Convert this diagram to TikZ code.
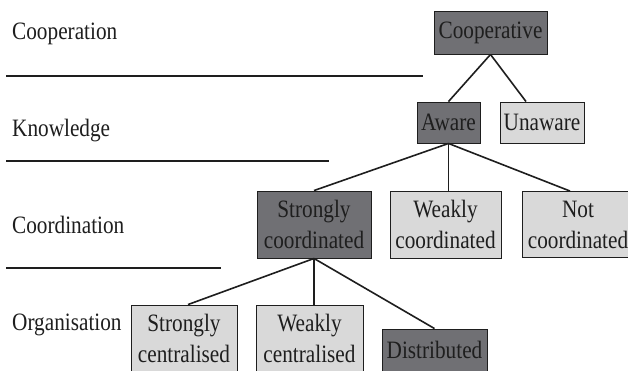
\documentclass[tikz,border=0pt]{standalone}
\usepackage{fontspec}
\setmainfont{Liberation Serif}[FakeStretch=0.85]
\usetikzlibrary{calc}
\definecolor{darkfill}{RGB}{112,112,116}
\definecolor{lightfill}{RGB}{217,217,217}
\definecolor{ink}{RGB}{30,30,30}
\tikzset{
  box/.style={draw=ink, line width=0.9pt, inner sep=0pt, align=center, text=ink,
    font=\fontsize{25}{31}\selectfont},
  darkbox/.style={box, fill=darkfill},
  lightbox/.style={box, fill=lightfill},
  level/.style={anchor=base west, text=ink, font=\fontsize{25}{31}\selectfont, inner sep=0pt},
  sep/.style={draw=ink, line width=1.5pt},
  edge/.style={draw=ink, line width=1.6pt},
}
\begin{document}
\begin{tikzpicture}[x=1pt,y=-1pt]
\useasboundingbox (0,0) rectangle (628,370);
\clip (0,0) rectangle (628,370);
\fill[white] (0,0) rectangle (628,370);

% level labels
\node[level] (lcoop) at (12,39) {Cooperation};
\node[level] (lknow) at (12,136) {Knowledge};
\node[level] (lcoord) at (12,233) {Coordination};
\node[level] (lorg) at (12,330) {Organisation};

% separators
\coordinate (s1a) at (6,76);  \coordinate (s1b) at (423,76);
\coordinate (s2a) at (6,161); \coordinate (s2b) at (329,161);
\coordinate (s3a) at (6,268); \coordinate (s3b) at (221,268);
\draw[sep] (s1a) -- (s1b);
\draw[sep] (s2a) -- (s2b);
\draw[sep] (s3a) -- (s3b);

% boxes
\node[darkbox, minimum width=113pt, minimum height=43pt] (coop) at (490.5,32.5) {Cooperative};
\node[darkbox, minimum width=63pt, minimum height=41pt] (aware) at (448.5,122.5) {Aware};
\node[lightbox, minimum width=84pt, minimum height=41pt] (unaware) at (542,122.5) {Unaware};
\node[darkbox, minimum width=114pt, minimum height=67pt] (scoord) at (314,224.5) {Strongly\\coordinated};
\node[lightbox, minimum width=111pt, minimum height=67pt] (wcoord) at (445.5,224.5) {Weakly\\coordinated};
\node[lightbox, minimum width=112pt, minimum height=66pt] (ncoord) at (578,224.5) {Not\\coordinated};
\node[lightbox, minimum width=106pt, minimum height=67pt] (scent) at (184,338.5) {Strongly\\centralised};
\node[lightbox, minimum width=107pt, minimum height=67pt] (wcent) at (309.5,338.5) {Weakly\\centralised};
\node[darkbox, minimum width=105pt, minimum height=42pt] (dist) at (434.5,350) {Distributed};

% connectors
\draw[edge] (coop.south) -- (aware.north);
\draw[edge] (coop.south) -- ([xshift=-16pt]unaware.north);
\draw[edge] (aware.south) -- (scoord.north);
\draw[edge] (aware.south) -- (aware.south |- wcoord.north);
\draw[edge] (aware.south) -- ([xshift=-8pt]ncoord.north);
\draw[edge] (scoord.south) -- ([xshift=4pt]scent.north);
\draw[edge] (scoord.south) -- (scoord.south |- wcent.north);
\draw[edge] (scoord.south) -- (dist.north);
\end{tikzpicture}
\end{document}
